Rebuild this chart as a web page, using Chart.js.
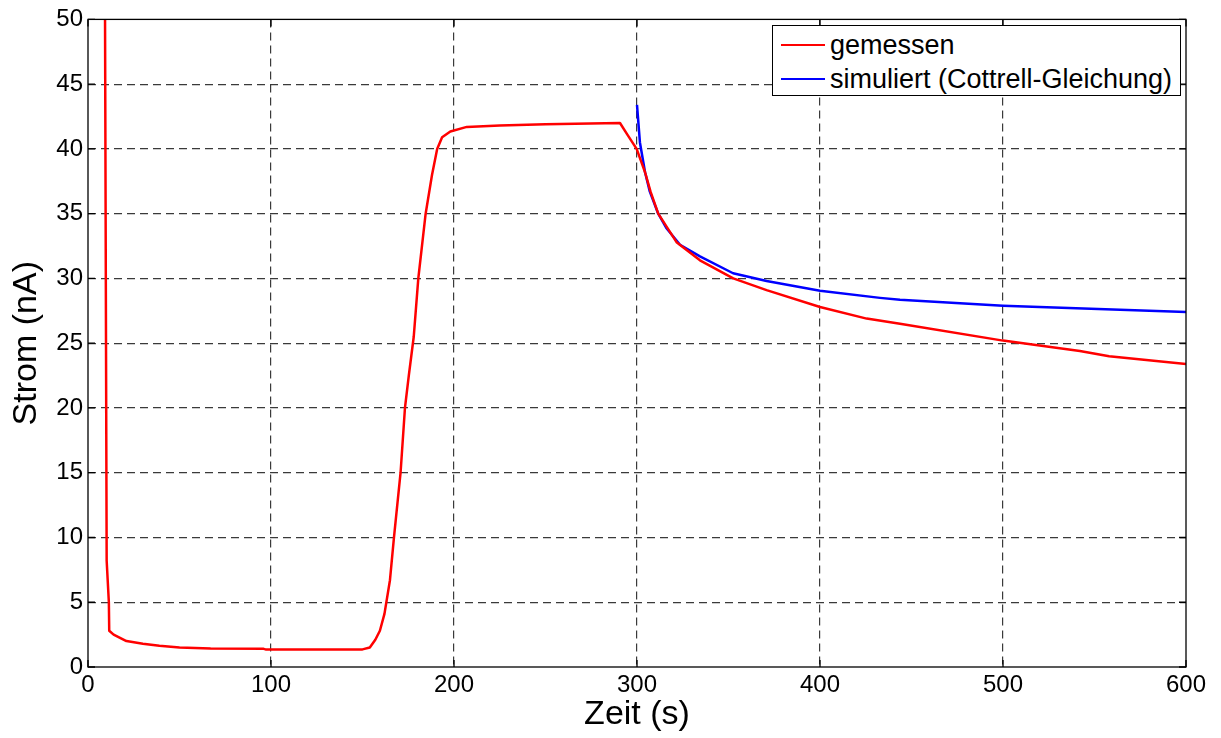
<!DOCTYPE html>
<html>
<head>
<meta charset="utf-8">
<script src="https://cdn.jsdelivr.net/npm/chart.js@4.4.1/dist/chart.umd.min.js"></script>
<style>
  html,body{margin:0;padding:0;background:#fff;}
  #wrap{position:relative;width:1221px;height:738px;}
  #legend{position:absolute;left:772px;top:25px;width:407px;height:69px;border:1px solid #000;background:#fff;
    font-family:"Liberation Sans",Arial,sans-serif;font-size:27px;color:#000;box-sizing:content-box;}
  .row{position:absolute;left:0;height:30px;display:flex;align-items:center;white-space:nowrap;}
  .sw{display:inline-block;width:44px;height:2px;margin-left:8px;margin-right:5px;}
</style>
</head>
<body>
<div id="wrap">
  <canvas id="c" width="1221" height="738"></canvas>
  <div id="legend"></div>
</div>
<script>
// ---- data ----
const seriesNames = ["gemessen", "simuliert (Cottrell-Gleichung)"];
const seriesColors = ["#ff0000", "#0000ff"];

const measuredT = [9.3, 10.2, 11.4, 11.6, 14, 21, 30, 39, 50, 67, 96, 97, 150, 154, 157, 159.5, 162, 165, 167.2, 170.8, 173.2, 175.3, 178, 180.5, 184.5, 188, 190.8, 193.5, 198, 207, 225, 250, 290.7, 295, 299.8, 304.4, 307.4, 311.6, 321.6, 334.4, 352.6, 370.8, 400, 425.5, 443.7, 500, 542, 558, 600];
const measuredI = [50.5, 8.2, 5.0, 2.8, 2.5, 2.0, 1.8, 1.64, 1.5, 1.42, 1.4, 1.36, 1.36, 1.5, 2.1, 2.8, 4.1, 6.7, 10.0, 15.0, 20.0, 22.5, 25.5, 30.0, 35.0, 38.0, 40.0, 40.9, 41.35, 41.7, 41.8, 41.9, 42.0, 41.05, 40.0, 38.2, 36.7, 35.0, 32.8, 31.4, 30.0, 29.1, 27.8, 26.9, 26.5, 25.2, 24.4, 24.0, 23.4];

const simT = [300, 301.6, 304.4, 307, 311.6, 316, 323.5, 334.4, 352.5, 370.8, 400, 432.8, 443.7, 500, 600];
const simI = [43.4, 40.5, 38.2, 36.7, 35.0, 33.9, 32.6, 31.7, 30.4, 29.8, 29.05, 28.5, 28.35, 27.9, 27.4];

const xTicks = [0, 100, 200, 300, 400, 500, 600];
const yTicks = [0, 5, 10, 15, 20, 25, 30, 35, 40, 45, 50];
const xTitle = "Zeit (s)";
const yTitle = "Strom (nA)";

// ---- build ----
const toPts = (t, v) => t.map((x, i) => ({x: x, y: v[i]}));
const FONT = "'Liberation Sans', Arial, sans-serif";

const frame = {
  id: 'frame',
  afterDraw(chart) {
    const {ctx, chartArea: a, scales} = chart;
    ctx.save();
    ctx.strokeStyle = '#000';
    ctx.lineWidth = 1.3;
    ctx.setLineDash([]);
    ctx.strokeRect(a.left, a.top, a.right - a.left, a.bottom - a.top);
    const L = 7;
    ctx.beginPath();
    xTicks.forEach(v => {
      const px = scales.x.getPixelForValue(v);
      ctx.moveTo(px, a.bottom); ctx.lineTo(px, a.bottom - L);
      ctx.moveTo(px, a.top); ctx.lineTo(px, a.top + L);
    });
    yTicks.forEach(v => {
      const py = scales.y.getPixelForValue(v);
      ctx.moveTo(a.left, py); ctx.lineTo(a.left + L, py);
      ctx.moveTo(a.right, py); ctx.lineTo(a.right - L, py);
    });
    ctx.stroke();
    ctx.restore();
  }
};

const chart = new Chart(document.getElementById('c'), {
  type: 'line',
  data: {
    datasets: [
      {label: seriesNames[0], data: toPts(measuredT, measuredI), borderColor: seriesColors[0], borderWidth: 2.5, pointRadius: 0, tension: 0, fill: false, borderJoinStyle: 'round'},
      {label: seriesNames[1], data: toPts(simT, simI), borderColor: seriesColors[1], borderWidth: 2.5, pointRadius: 0, tension: 0, fill: false, borderJoinStyle: 'round'}
    ]
  },
  options: {
    responsive: false,
    animation: false,
    layout: {padding: {left: 0, top: 17, right: 35, bottom: 0}},
    plugins: {legend: {display: false}, tooltip: {enabled: false}},
    scales: {
      x: {
        type: 'linear', min: 0, max: 600,
        afterBuildTicks: s => { s.ticks = xTicks.map(v => ({value: v})); },
        afterFit: s => { s.height = 71; },
        ticks: {color: '#000', font: {family: FONT, size: 24}, padding: 4, maxRotation: 0},
        grid: {drawTicks: false, color: ctx => (ctx.tick && (ctx.tick.value === 0 || ctx.tick.value === 600)) ? 'rgba(0,0,0,0)' : '#3a3a3a', lineWidth: 1.2},
        border: {display: false, dash: [8, 5]},
        title: {display: true, text: xTitle, color: '#000', font: {family: FONT, size: 34}, padding: {top: 0, bottom: 3}}
      },
      y: {
        type: 'linear', min: 0, max: 50,
        afterBuildTicks: s => { s.ticks = yTicks.map(v => ({value: v})); },
        afterFit: s => { s.width = 88; },
        ticks: {color: '#000', font: {family: FONT, size: 24}, padding: 5},
        grid: {drawTicks: false, color: ctx => (ctx.tick && (ctx.tick.value === 0 || ctx.tick.value === 50)) ? 'rgba(0,0,0,0)' : '#3a3a3a', lineWidth: 1.2},
        border: {display: false, dash: [8, 5]},
        title: {display: true, text: yTitle, color: '#000', font: {family: FONT, size: 34}, padding: {top: 6, bottom: 0}}
      }
    }
  },
  plugins: [frame]
});

// HTML legend built from the datasets
const leg = document.getElementById('legend');
chart.data.datasets.forEach((ds, i) => {
  const row = document.createElement('div');
  row.className = 'row';
  row.style.top = (4 + i * 34) + 'px';
  const sw = document.createElement('span');
  sw.className = 'sw';
  sw.style.background = ds.borderColor;
  const tx = document.createElement('span');
  tx.textContent = ds.label;
  row.appendChild(sw); row.appendChild(tx);
  leg.appendChild(row);
});
</script>
</body>
</html>
